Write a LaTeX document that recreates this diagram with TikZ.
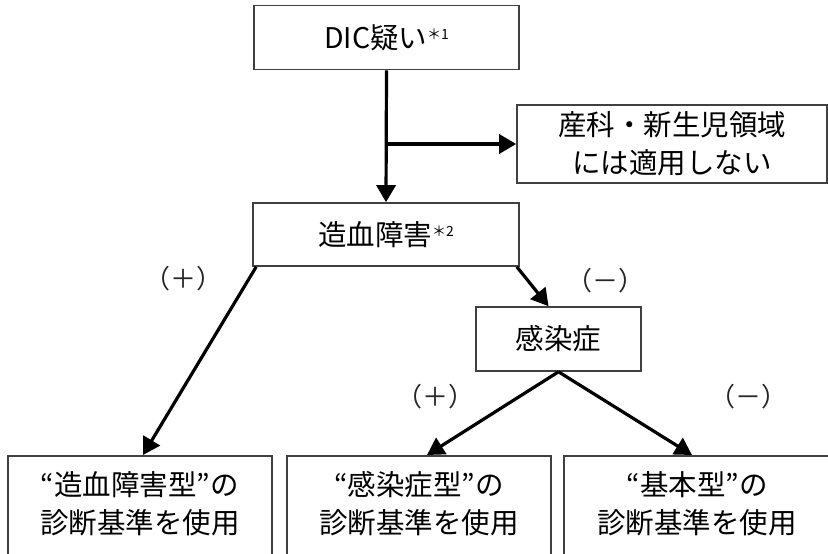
\documentclass[tikz,border=0pt]{standalone}
\usepackage{fontspec}
\setmainfont{Noto Sans CJK JP}
\usetikzlibrary{arrows.meta}
\tikzset{
  box/.style={draw=black!75, line width=1.6pt, fill=white, inner sep=0pt},
  txt/.style={font=\fontsize{28.5}{38}\selectfont, align=center, inner sep=0pt},
  lbl/.style={font=\fontsize{26}{30}\selectfont, inner sep=0pt, text=black!85},
  arr/.style={line width=3.2pt, -{Triangle[length=17pt,width=19pt]}},
}
\newcommand{\supmark}[1]{{\fontsize{14}{14}\selectfont\raisebox{9pt}{＊#1}}}
\begin{document}
\begin{tikzpicture}[x=1pt,y=-1pt]
\useasboundingbox (0,0) rectangle (828,554);
\node[box, txt, minimum width=265pt, minimum height=64pt] (dic) at (386.5,37.5) {DIC疑い\supmark{1}};
\node[box, txt, minimum width=310pt, minimum height=78pt] (sanka) at (672,144) {産科・新生児領域\\には適用しない};
\node[box, txt, minimum width=266pt, minimum height=63pt] (zok) at (386,234.5) {造血障害\supmark{2}};
\node[box, txt, minimum width=165pt, minimum height=64pt] (kan) at (558.5,339) {感染症};
\node[box, minimum width=264pt, minimum height=130pt, anchor=north] (b1) at (140,455) {};
\node[box, minimum width=264pt, minimum height=130pt, anchor=north] (b2) at (419,455) {};
\node[box, minimum width=266pt, minimum height=130pt, anchor=north] (b3) at (697,455) {};
\node[txt] (t1) at (140,504) {“造血障害型”の\\診断基準を使用};
\node[txt] (t2) at (419,504) {“感染症型”の\\診断基準を使用};
\node[txt] (t3) at (697,504) {“基本型”の\\診断基準を使用};
\node[lbl] (l1) at (183,279) {（＋）};
\node[lbl] (l2) at (605,281) {（－）};
\node[lbl] (l3) at (435,397) {（＋）};
\node[lbl] (l4) at (748,397) {（－）};
\coordinate (br) at (dic.south |- sanka.west);
\draw[arr] (dic.south) -- (zok.north);
\draw[arr] (br) -- (sanka.west);
\draw[arr] ([xshift=-3pt]zok.south east) -- ([xshift=-10pt]kan.north);
\draw[arr] ([xshift=4pt]zok.south west) -- ([xshift=3pt]b1.north);
\draw[arr] (kan.south) -- ([xshift=8pt]b2.north);
\draw[arr] (kan.south) -- ([xshift=-5pt]b3.north);
\end{tikzpicture}
\end{document}
